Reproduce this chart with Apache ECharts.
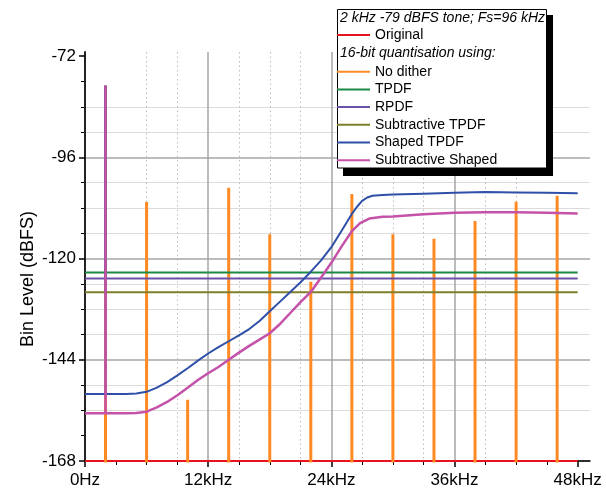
<!DOCTYPE html>
<html>
<head>
<meta charset="utf-8">
<script src="https://cdn.jsdelivr.net/npm/echarts@6/dist/echarts.min.js"></script>
<style>
html,body{margin:0;padding:0;background:#fff;}
#c{width:606px;height:490px;}
</style>
</head>
<body>
<div id="c"></div>
<script>
// ---- data ----
const xTicks = [0, 12, 24, 36, 48];
const xTickLabels = ['0Hz', '12kHz', '24kHz', '36kHz', '48kHz'];
const xMinorTicks = [3, 6, 9, 15, 18, 21, 27, 30, 33, 39, 42, 45];
const yTicks = [-168, -144, -120, -96, -72];
const yTickLabels = ['-168', '-144', '-120', '-96', '-72'];
const yMinorTicks = [-162, -156, -150, -138, -132, -126, -114, -108, -102, -90, -84, -78];

const toneFreq = 2;        // kHz
const toneLevel = -79;     // dBFS

const originalFreqs = [0, 2, 48];
const originalLevels = [-168, -168, -168];

const harmonicFreqs = [2, 6, 10, 14, 18, 22, 26, 30, 34, 38, 42, 46];
const noDitherPeaks = [-79, -106.6, -153.5, -103.2, -114.2, -125.5, -104.7, -114.2, -115.3, -111.1, -106.5, -105.1];
const noDitherFloor = -185;

const flatFreqs = [0, 2, 48];
const tpdfLevels = [-123.3, -123.3, -123.3];
const rpdfLevels = [-124.7, -124.7, -124.7];
const subTpdfLevels = [-128.0, -128.0, -128.0];

const shapedFreqs = [0, 2, 4, 5, 6, 7, 8, 9, 10, 11, 12, 13, 14, 15, 16, 17, 18, 19, 20, 21, 22, 23, 24, 25, 26, 26.5, 27, 27.5, 28, 29, 30, 33, 36, 39, 42, 45, 48];
const shapedLevels = [-152.1, -152.1, -152.1, -152.0, -151.6, -150.6, -149.3, -147.7, -146.0, -144.2, -142.5, -141.0, -139.6, -138.2, -136.7, -134.8, -132.5, -130.2, -127.9, -125.6, -123.1, -120.4, -117.3, -113.4, -109.4, -107.7, -106.3, -105.5, -105.1, -104.9, -104.8, -104.6, -104.4, -104.2, -104.3, -104.4, -104.5];

const subShapedFreqs = [0, 2, 4, 5, 6, 7, 8, 9, 10, 11, 12, 13, 14, 15, 16, 17, 18, 19, 20, 21, 22, 23, 24, 25, 26, 26.8, 27.7, 29, 30, 33, 36, 39, 42, 45, 48];
const subShapedLevels = [-156.7, -156.7, -156.7, -156.6, -156.3, -155.3, -154.0, -152.4, -150.6, -148.8, -147.2, -145.7, -144.0, -142.3, -140.7, -139.2, -137.7, -135.5, -132.9, -130.3, -127.9, -124.5, -121.0, -117.1, -113.5, -111.6, -110.5, -110.1, -110.0, -109.5, -109.1, -109.0, -109.0, -109.1, -109.3];

const seriesNames = ['Original', 'No dither', 'TPDF', 'RPDF', 'Subtractive TPDF', 'Shaped TPDF', 'Subtractive Shaped'];
const seriesColors = ['#e8141c', '#ff8a24', '#1a8a44', '#6a52a8', '#7f7f2a', '#2f4fa8', '#c452a8'];

// ---- build ----
function withTone(freqs, levels) {
  const out = [];
  for (let i = 0; i < freqs.length; i++) {
    if (freqs[i] === toneFreq) {
      out.push([freqs[i], levels[i]]);
      out.push([toneFreq, toneLevel]);
      out.push([freqs[i], levels[i]]);
    } else {
      out.push([freqs[i], levels[i]]);
    }
  }
  return out;
}
function spikes(freqs, peaks, floor) {
  const out = [[0, floor]];
  for (let i = 0; i < freqs.length; i++) {
    out.push([freqs[i], floor], [freqs[i], peaks[i]], [freqs[i], floor]);
  }
  out.push([48, floor]);
  return out;
}
const dataSets = [
  withTone(originalFreqs, originalLevels),
  spikes(harmonicFreqs, noDitherPeaks, noDitherFloor),
  withTone(flatFreqs, tpdfLevels),
  withTone(flatFreqs, rpdfLevels),
  withTone(flatFreqs, subTpdfLevels),
  withTone(shapedFreqs, shapedLevels),
  withTone(subShapedFreqs, subShapedLevels)
];
const widths = [2, 3, 2, 2, 2, 2, 2.5];

const FONT = "'Liberation Sans', Arial, sans-serif";
const chart = echarts.init(document.getElementById('c'), null, {renderer: 'canvas'});

const xLab = v => { const i = xTicks.indexOf(v); return i >= 0 ? xTickLabels[i] : ''; };
const yLab = v => { const i = yTicks.indexOf(v); return i >= 0 ? yTickLabels[i] : ''; };
const dotted = {color: '#bdbdbd', width: 1, type: [1.5, 3]};

const series = seriesNames.map((n, i) => ({
  name: n, type: 'line', xAxisIndex: 0, yAxisIndex: 0,
  data: dataSets[i], showSymbol: false, symbol: 'none',
  color: seriesColors[i],
  lineStyle: {color: seriesColors[i], width: widths[i]},
  clip: true
}));
// helper (invisible) series so the minor-grid axes are not blank
series.unshift({
  name: '_minor', type: 'line', xAxisIndex: 1, yAxisIndex: 1,
  data: [[xTicks[0], yTicks[0]], [xTicks[4], yTicks[4]]], symbol: 'none', silent: true,
  lineStyle: {opacity: 0}, itemStyle: {opacity: 0}
});

const option = {
  backgroundColor: '#fff',
  animation: false,
  grid: {left: 85, top: 52, width: 505, height: 409, containLabel: false},
  xAxis: [{
    type: 'value', min: 0, max: 49.2, interval: 12,
    axisLine: {show: true, onZero: false, lineStyle: {color: '#000', width: 1.5}},
    axisTick: {show: true, length: 6, inside: false, customValues: xTicks, lineStyle: {color: '#000', width: 1.5}},
    axisLabel: {show: true, customValues: xTicks, formatter: xLab, color: '#000', fontSize: 17, fontFamily: FONT, margin: 11},
    splitLine: {show: true, showMaxLine: false, lineStyle: {color: '#a6a6a6', width: 1.5}},
    z: 3
  }, {
    type: 'value', min: 0, max: 49.2, interval: 3, position: 'bottom', offset: 0,
    axisLine: {show: false, onZero: false},
    axisTick: {show: true, inside: false, length: 4, customValues: xMinorTicks, lineStyle: {color: '#000', width: 1}},
    axisLabel: {show: false},
    splitLine: {show: true, showMaxLine: false, showMinLine: false, lineStyle: dotted},
    z: 1
  }],
  yAxis: [{
    type: 'value', min: -168, max: -71, interval: 24,
    axisLine: {show: true, onZero: false, lineStyle: {color: '#000', width: 1.5}},
    axisTick: {show: true, length: 6, customValues: yTicks, lineStyle: {color: '#000', width: 1.5}},
    axisLabel: {show: true, customValues: yTicks, formatter: yLab, color: '#000', fontSize: 17, fontFamily: FONT, margin: 9},
    splitLine: {show: true, showMaxLine: false, lineStyle: {color: '#a6a6a6', width: 1.5}},
    z: 3
  }, {
    type: 'value', min: -168, max: -71, interval: 6, position: 'left', offset: 0,
    axisLine: {show: true, onZero: false, lineStyle: {color: '#000', width: 1.5}},
    axisTick: {show: true, inside: false, length: 4, customValues: yMinorTicks, lineStyle: {color: '#000', width: 1}},
    axisLabel: {show: false},
    splitLine: {show: true, showMaxLine: false, showMinLine: false, lineStyle: {color: '#dcdcdc', width: 1}},
    z: 1
  }],
  legend: [{
    data: ['Original'], orient: 'vertical', left: 337, top: 28, padding: 0,
    icon: 'rect', itemWidth: 33, itemHeight: 2, itemGap: 3.7, z: 20,
    textStyle: {color: '#000', fontSize: 14, fontFamily: FONT}, selectedMode: false
  }, {
    data: seriesNames.slice(1), orient: 'vertical', left: 337, top: 64.7, padding: 0,
    icon: 'rect', itemWidth: 33, itemHeight: 2, itemGap: 3.7, z: 20,
    textStyle: {color: '#000', fontSize: 14, fontFamily: FONT}, selectedMode: false
  }],
  graphic: [
    {type: 'rect', z: 10, shape: {x: 343, y: 15, width: 210, height: 161}, style: {fill: '#000'}},
    {type: 'rect', z: 11, shape: {x: 337.5, y: 9.5, width: 209, height: 158.5}, style: {fill: '#fff', stroke: '#000', lineWidth: 1}},
    {type: 'text', z: 21, x: 340, y: 18, style: {text: '2 kHz -79 dBFS tone; Fs=96 kHz', font: "italic 14px " + FONT, fill: '#000', verticalAlign: 'middle'}},
    {type: 'text', z: 21, x: 340, y: 53.3, style: {text: '16-bit quantisation using:', font: "italic 14px " + FONT, fill: '#000', verticalAlign: 'middle'}},
    {type: 'text', z: 21, x: 28, y: 279, rotation: Math.PI / 2, style: {text: 'Bin Level (dBFS)', font: "18px " + FONT, fill: '#000', align: 'center', verticalAlign: 'middle'}}
  ],
  series: series
};
chart.setOption(option);
</script>
</body>
</html>
